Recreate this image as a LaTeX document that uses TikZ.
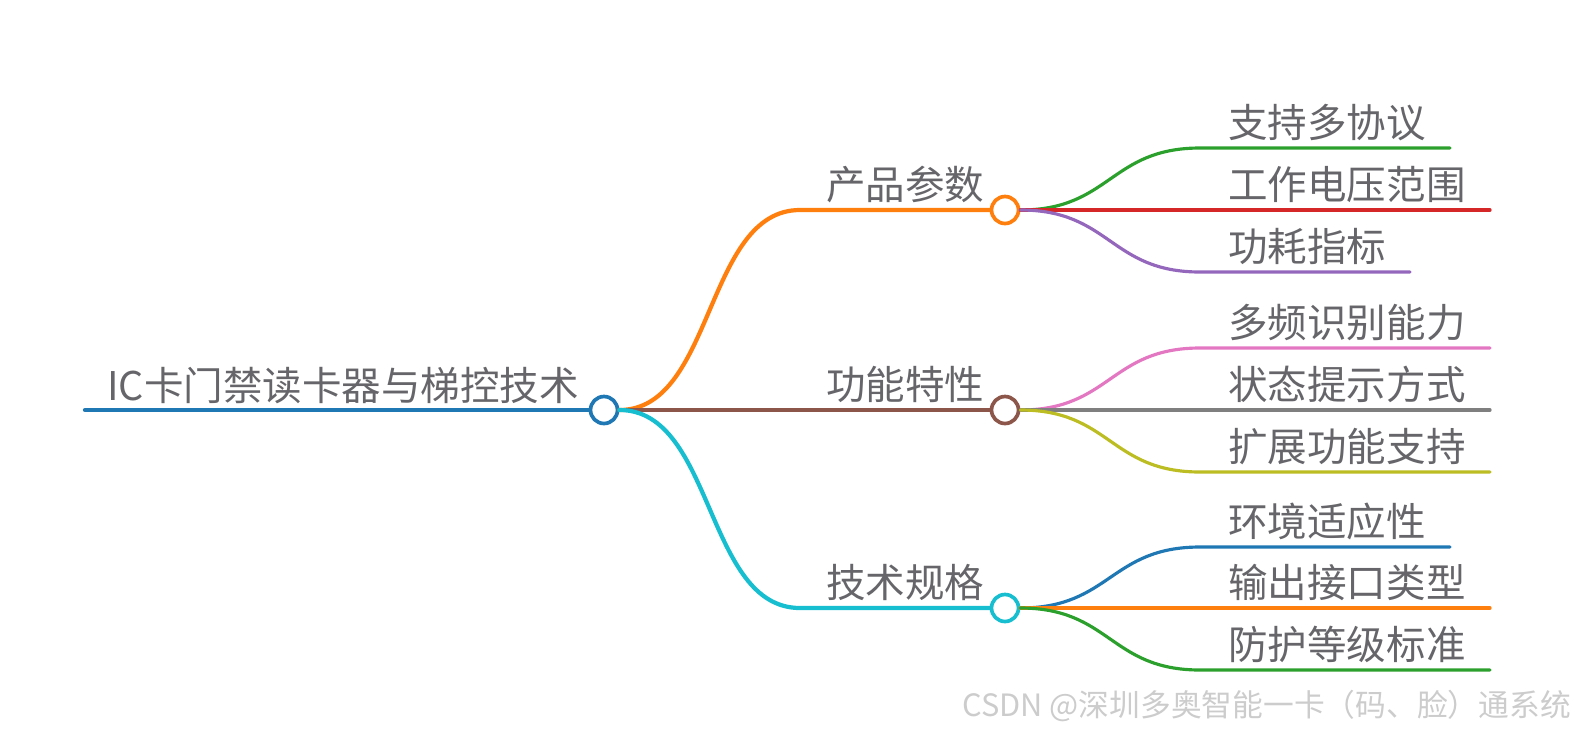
\documentclass[tikz,border=0pt]{standalone}
\usepackage{fontspec}
\newfontfamily\cjk{Noto Sans CJK SC}
\definecolor{tabblue}{HTML}{1F77B4}
\definecolor{taborange}{HTML}{FF7F0E}
\definecolor{tabgreen}{HTML}{2CA02C}
\definecolor{tabred}{HTML}{D62728}
\definecolor{tabpurple}{HTML}{9467BD}
\definecolor{tabbrown}{HTML}{8C564B}
\definecolor{tabpink}{HTML}{E377C2}
\definecolor{tabgray}{HTML}{7F7F7F}
\definecolor{tabolive}{HTML}{BCBD22}
\definecolor{tabcyan}{HTML}{17BECF}
\definecolor{txtgray}{HTML}{66666A}

\begin{document}
\begin{tikzpicture}[x=0.02cm, y=-0.02cm, line cap=round,
  hub/.style={circle, line width=2.1pt, fill=white, minimum size=0.54cm, inner sep=0pt},
  label/.style={anchor=base west, inner sep=0pt, text=txtgray, font=\cjk\fontsize{22.5}{27}\selectfont},
  branch/.style={line width=2.4pt},
  leaf/.style={line width=1.8pt}]
  \useasboundingbox (0,0) rectangle (1575,735); % same frame as the reference

  % --- root ---
  \coordinate (rootstart) at (85,410);
  \node[hub, draw=tabblue] (root) at (604,410) {};
  \draw[branch, tabblue] (rootstart) -- (root.west);
  \node[label] (roottext) at (107,400) {IC卡门禁读卡器与梯控技术};

  % --- main branches ---
  \foreach \n/\y/\col/\txt in {p1/210/taborange/产品参数, p2/410/tabbrown/功能特性, p3/608/tabcyan/技术规格}{
    \coordinate (\n k) at (800,\y);
    \node[hub, draw=\col] (\n) at (1005,\y) {};
    \draw[branch, \col] (root.east) .. controls +(95,0) and +(-95,0) .. (\n k) -- (\n.west);
    \node[label] (\n t) at (826,\y-11) {\txt};
  }

  % --- leaves ---
  \foreach \up/\ly/\xend/\col/\txt [count=\i] in {
      p1/148/1450/tabgreen/支持多协议, p1/210/1490/tabred/工作电压范围, p1/272/1410/tabpurple/功耗指标,
      p2/348/1490/tabpink/多频识别能力, p2/410/1490/tabgray/状态提示方式, p2/472/1490/tabolive/扩展功能支持,
      p3/547/1450/tabblue/环境适应性, p3/608/1490/taborange/输出接口类型, p3/670/1490/tabgreen/防护等级标准}{
    \coordinate (k\i) at (1200,\ly);
    \coordinate (e\i) at (\xend,\ly);
    \draw[leaf, \col] (\up.east) .. controls +(90,0) and +(-90,0) .. (k\i) -- (e\i);
    \node[label] (t\i) at (1228,\ly-11) {\txt};
  }

  % --- watermark ---
  \node[anchor=base west, inner sep=0pt, text=gray!40, font=\cjk\fontsize{17.5}{21}\selectfont] (mark) at (962,716) {CSDN @深圳多奥智能一卡（码、脸）通系统};
\end{tikzpicture}
\end{document}
